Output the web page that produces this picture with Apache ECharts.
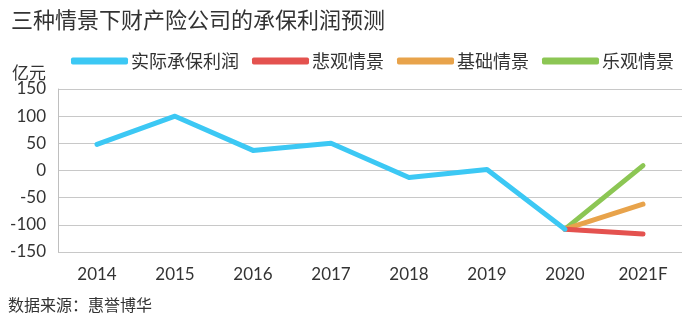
<!DOCTYPE html>
<html><head><meta charset="utf-8">
<script src="https://cdn.jsdelivr.net/npm/echarts@6/dist/echarts.min.js"></script>
<style>html,body{margin:0;padding:0;background:#fff}#c{width:691px;height:324px}</style>
</head><body><div id="c"></div>
<script>
const categories = ['2014','2015','2016','2017','2018','2019','2020','2021F'];
const actual = [48, 100, 37, 50, -13, 2, -108, null];
const pessimistic = [null, null, null, null, null, null, -108, -117];
const baseline = [null, null, null, null, null, null, -108, -62];
const optimistic = [null, null, null, null, null, null, -108, 9];
const seriesNames = ['实际承保利润','悲观情景','基础情景','乐观情景'];
const colors = ['#3cc8f4','#e4524f','#e8a34b','#8cc654'];
const yTicks = {min:-150, max:150, interval:50};

const chart = echarts.init(document.getElementById('c'));
const cjk = '"Noto Sans CJK SC", "Noto Sans", sans-serif';
const num = 'Lato, "Noto Sans CJK SC", sans-serif';
const mk = (name, data, i) => ({
  name, type:'line', data, symbol:'none', connectNulls:false,
  lineStyle:{width:5, color:colors[i], cap:'round', join:'round'},
  itemStyle:{color:colors[i]}, z: 10 - i
});
chart.setOption({
  animation:false,
  title:{text:'三种情景下财产险公司的承保利润预测', left:6, top:4,
    textStyle:{fontFamily:cjk, fontSize:22, fontWeight:'normal', color:'#333'}},
  legend:{left:66, top:47, itemWidth:57, itemHeight:7, itemGap:13,
    icon:'roundRect',
    textStyle:{fontFamily:cjk, fontSize:18, color:'#333', padding:[0,0,0,-2]},
    data:seriesNames},
  grid:{left:58, right:9, top:89, bottom:72, containLabel:false},
  xAxis:{type:'category', data:categories, boundaryGap:true,
    axisLine:{show:false}, axisTick:{show:false},
    axisLabel:{fontFamily:num, fontSize:17, color:'#333', margin:14}},
  yAxis:{type:'value', min:yTicks.min, max:yTicks.max, interval:yTicks.interval,
    name:'亿元', nameLocation:'end', nameGap:4,
    nameTextStyle:{fontFamily:cjk, fontSize:17, color:'#333', align:'right', padding:[0,12,0,0]},
    axisLine:{show:true, lineStyle:{color:'#bfbfbf'}}, axisTick:{show:false},
    axisLabel:{fontFamily:num, fontSize:17, color:'#333', margin:12},
    splitLine:{lineStyle:{color:'#c8c8c8'}}},
  graphic:[{type:'text', left:8, top:297,
    style:{text:'数据来源：惠誉博华', fontFamily:cjk, fontSize:16, fill:'#333'}}],
  series:[mk(seriesNames[0], actual, 0), mk(seriesNames[1], pessimistic, 1),
          mk(seriesNames[2], baseline, 2), mk(seriesNames[3], optimistic, 3)]
});
</script></body></html>
